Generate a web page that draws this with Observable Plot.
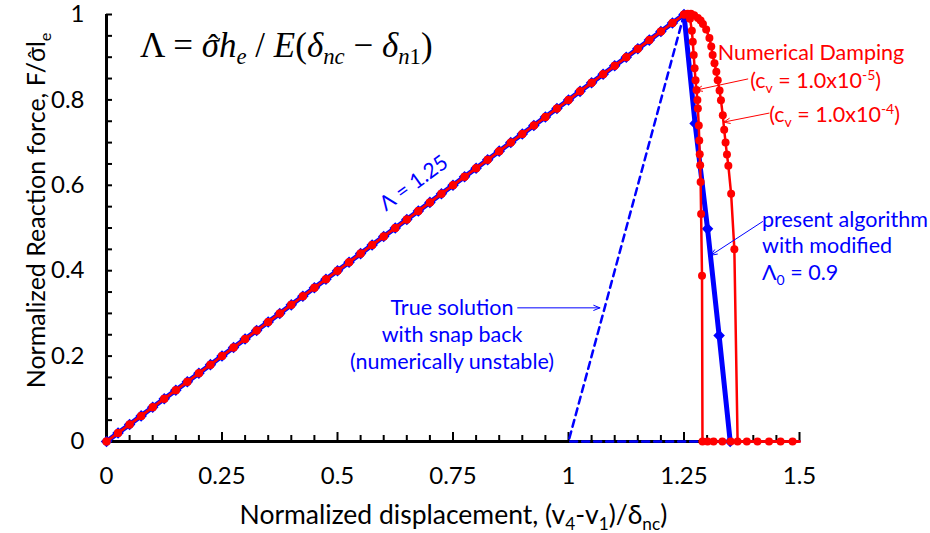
<!DOCTYPE html>
<html><head><meta charset="utf-8">
<script src="https://cdn.jsdelivr.net/npm/d3@7"></script>
<script src="https://cdn.jsdelivr.net/npm/@observablehq/plot@0.6"></script>
<style>
body{margin:0;background:#fff;}
#chart svg{display:block;}
</style></head><body><div id="chart"></div>
<script>
// ---------- data ----------
const elasticX = [0,0.025,0.05,0.075,0.1,0.125,0.15,0.175,0.2,0.225,0.25,0.275,0.3,0.325,0.35,0.375,0.4,0.425,0.45,0.475,0.5,0.525,0.55,0.575,0.6,0.625,0.65,0.675,0.7,0.725,0.75,0.775,0.8,0.825,0.85,0.875,0.9,0.925,0.95,0.975,1.0,1.025,1.05,1.075,1.1,1.125,1.15,1.175,1.2,1.225,1.25];
const elasticY = [0,0.02,0.04,0.06,0.08,0.10,0.12,0.14,0.16,0.18,0.20,0.22,0.24,0.26,0.28,0.30,0.32,0.34,0.36,0.38,0.40,0.42,0.44,0.46,0.48,0.50,0.52,0.54,0.56,0.58,0.60,0.62,0.64,0.66,0.68,0.70,0.72,0.74,0.76,0.78,0.80,0.82,0.84,0.86,0.88,0.90,0.92,0.94,0.96,0.98,1.00];

// present algorithm (modified Λ0 = 0.9), after the peak
const presentX = [1.274,1.301,1.326,1.350];
const presentY = [0.745,0.498,0.248,0];

// numerical damping cv = 1.0e-5, after the peak
const damp5X = [1.257,1.263,1.267,1.269,1.271,1.273,1.275,1.277,1.279,1.280,1.282,1.283,1.284,1.285,1.286,1.287,1.289,1.290,1.301,1.314,1.333,1.351,1.500];
const damp5Y = [1.000,0.990,0.962,0.936,0.905,0.874,0.846,0.823,0.800,0.780,0.740,0.705,0.673,0.647,0.608,0.533,0.388,0,0,0,0,0,0];

// numerical damping cv = 1.0e-4, after the peak
const damp4X = [1.258,1.265,1.272,1.280,1.286,1.291,1.298,1.305,1.309,1.312,1.316,1.320,1.323,1.327,1.330,1.334,1.337,1.340,1.343,1.346,1.352,1.359,1.366,1.386,1.409,1.434,1.459,1.485,1.500];
const damp4Y = [1.002,1.002,0.998,0.992,0.986,0.978,0.965,0.945,0.925,0.905,0.886,0.866,0.846,0.822,0.799,0.764,0.730,0.700,0.672,0.646,0.580,0.450,0,0,0,0,0,0,0];

// true solution with snap back
const trueX = [1.25,1.0,1.5];
const trueY = [1.0,0,0];

// axes ticks
const xLabelTicks = [0,0.25,0.5,0.75,1,1.25,1.5];
const xMinorTicks = [0.05,0.1,0.15,0.2,0.3,0.35,0.4,0.45,0.55,0.6,0.65,0.7,0.8,0.85,0.9,0.95,1.05,1.1,1.15,1.2,1.3,1.35,1.4,1.45];
const yLabelTicks = [0,0.2,0.4,0.6,0.8,1];
const yMinorTicks = [0.05,0.1,0.15,0.2,0.25,0.3,0.35,0.4,0.45,0.5,0.55,0.6,0.65,0.7,0.75,0.8,0.85,0.9,0.95,1.0];

// annotation arrows (data coordinates)
const arrowX1 = [1.388,1.434,1.420,0.890];
const arrowY1 = [0.849,0.769,0.515,0.313];
const arrowX2 = [1.276,1.336,1.308,1.068];
const arrowY2 = [0.823,0.748,0.436,0.313];
const arrowColor = ["red","red","blue","blue"];

// ---------- build ----------
const BLUE = "#0000ff", RED = "#ff0000";
const tbl = (xs, ys) => xs.map((x, i) => ({x, y: ys[i]}));
const elastic = tbl(elasticX, elasticY);
const present = elastic.concat(tbl(presentX, presentY));
const damp5 = elastic.concat(tbl(damp5X, damp5Y));
const damp4 = elastic.concat(tbl(damp4X, damp4Y));
const trueSol = tbl(trueX, trueY);
const arrows = arrowX1.map((x1, i) => ({x1, y1: arrowY1[i], x2: arrowX2[i], y2: arrowY2[i], c: arrowColor[i]}));
const noLast = a => a.slice(0, -1);

const W = 930, H = 533, mL = 106, mR = 131, mT = 14, mB = 92;
const FW = W - mL - mR, FH = H - mT - mB;
const SANS = "Lato, 'Open Sans', sans-serif";

const plot = Plot.plot({
  width: W, height: H,
  marginLeft: mL, marginRight: mR, marginTop: mT, marginBottom: mB,
  x: {domain: [0, 1.5]},
  y: {domain: [0, 1]},
  style: {fontFamily: SANS, background: "white", color: "black"},
  marks: [
    Plot.tickX(xMinorTicks, {x: d => d, stroke: "black", strokeWidth: 2, insetTop: FH - 6}),
    Plot.tickX(xLabelTicks, {x: d => d, stroke: "black", strokeWidth: 2, insetTop: FH - 9}),
    Plot.tickY(yMinorTicks, {y: d => d, stroke: "black", strokeWidth: 2, insetRight: FW - 6}),
    Plot.ruleY([0], {stroke: "black", strokeWidth: 3}),
    Plot.ruleX([0], {stroke: "black", strokeWidth: 3}),
    Plot.axisX(xLabelTicks, {tickSize: 0, tickPadding: 25, fontSize: 24, tickFormat: d => String(d), label: null}),
    Plot.axisY(yLabelTicks, {tickSize: 0, tickPadding: 22, fontSize: 24, tickFormat: d => String(d), label: null}),
    Plot.line(trueSol, {x: "x", y: "y", stroke: BLUE, strokeWidth: 2.5, strokeDasharray: "7,5"}),
    Plot.line(present, {x: "x", y: "y", stroke: BLUE, strokeWidth: 5}),
    Plot.dot(present, {x: "x", y: "y", symbol: "diamond2", r: 5.2, fill: BLUE}),
    Plot.line(damp4, {x: "x", y: "y", stroke: RED, strokeWidth: 2.5}),
    Plot.dot(noLast(damp4), {x: "x", y: "y", r: 4, fill: RED}),
    Plot.line(damp5, {x: "x", y: "y", stroke: RED, strokeWidth: 2.5}),
    Plot.dot(noLast(damp5), {x: "x", y: "y", r: 4, fill: RED}),
    Plot.arrow(arrows, {x1: "x1", y1: "y1", x2: "x2", y2: "y2", stroke: "c", strokeWidth: 1, headLength: 10, headAngle: 45}),
    Plot.text(["Λ = 1.25"], {x: 0.665, y: 0.605, rotate: -36, fill: BLUE, fontSize: 21, fontFamily: SANS})
  ]
});
document.getElementById("chart").appendChild(plot);

// ---------- rich text (sub/superscripts, hats) ----------
const xs = plot.scale("x"), ys = plot.scale("y");
const svg = d3.select(plot);
function rich(o) {
  const px = xs.apply(o.x), py = ys.apply(o.y);
  const fam = o.family || SANS, fill = o.fill || "black";
  const tf = o.rotate ? `rotate(${o.rotate},${px},${py})` : null;
  const t = svg.append("text").attr("x", px).attr("y", py)
    .attr("font-size", o.size).attr("font-family", fam)
    .attr("fill", fill).attr("text-anchor", o.anchor || "start");
  if (tf) t.attr("transform", tf);
  let cur = 0, idx = 0;
  const hats = [];
  for (const s of o.segs) {
    const target = s.sub ? o.size * 0.22 : s.sup ? -o.size * 0.38 : 0;
    const ts = t.append("tspan").text(s.t).attr("dy", target - cur);
    if (s.sub || s.sup) ts.attr("font-size", o.size * 0.65);
    if (s.i) ts.attr("font-style", "italic");
    if (s.hat) hats.push({idx, italic: !!s.i});
    idx += s.t.length;
    cur = target;
  }
  for (const h of hats) {
    const r = t.node().getExtentOfChar(h.idx);
    const cx = r.x + r.width / 2 + (h.italic ? o.size * 0.08 : 0);
    const ht = svg.append("text").attr("x", cx).attr("y", py - o.size * 0.02)
      .attr("font-size", o.size * 0.9).attr("font-family", fam).attr("fill", fill)
      .attr("text-anchor", "middle").text("ˆ");
    if (tf) ht.attr("transform", tf);
  }
}
const SERIF = "'Liberation Serif', 'Times New Roman', serif";
const annotations = [
  {x: 0.0736, y: 0.90, size: 35, family: SERIF, segs: [
    {t: "Λ = "}, {t: "σ", i: 1, hat: 1}, {t: "h", i: 1}, {t: "e", i: 1, sub: 1}, {t: " / "}, {t: "E", i: 1}, {t: "("},
    {t: "δ", i: 1}, {t: "nc", i: 1, sub: 1}, {t: " − "}, {t: "δ", i: 1}, {t: "n", i: 1, sub: 1}, {t: "1", sub: 1}, {t: ")"}]},
  {x: 1.526, y: 0.892, size: 21.5, fill: RED, anchor: "middle", segs: [{t: "Numerical Damping"}]},
  {x: 1.536, y: 0.8267, size: 21.5, fill: RED, anchor: "middle", segs: [{t: "(c"}, {t: "v", sub: 1}, {t: " = 1.0x10"}, {t: "-5", sup: 1}, {t: ")"}]},
  {x: 1.577, y: 0.747, size: 21.5, fill: RED, anchor: "middle", segs: [{t: "(c"}, {t: "v", sub: 1}, {t: " = 1.0x10"}, {t: "-4", sup: 1}, {t: ")"}]},
  {x: 1.42, y: 0.501, size: 21.5, fill: BLUE, segs: [{t: "present algorithm"}]},
  {x: 1.42, y: 0.440, size: 21.5, fill: BLUE, segs: [{t: "with modified"}]},
  {x: 1.42, y: 0.377, size: 21.5, fill: BLUE, segs: [{t: "Λ"}, {t: "0", sub: 1}, {t: " = 0.9"}]},
  {x: 0.749, y: 0.295, size: 21.5, fill: BLUE, anchor: "middle", segs: [{t: "True solution"}]},
  {x: 0.749, y: 0.2319, size: 21.5, fill: BLUE, anchor: "middle", segs: [{t: "with snap back"}]},
  {x: 0.749, y: 0.1686, size: 21.5, fill: BLUE, anchor: "middle", segs: [{t: "(numerically unstable)"}]},
  {x: 0.752, y: -0.195, size: 26.5, anchor: "middle", segs: [{t: "Normalized displacement, (v"}, {t: "4", sub: 1}, {t: "-v"}, {t: "1", sub: 1}, {t: ")/δ"}, {t: "nc", sub: 1}, {t: ")"}]},
  {x: -0.132, y: 0.540, size: 25, anchor: "middle", rotate: -90, segs: [{t: "Normalized Reaction force, F/σl", hat: 0}, {t: "e", sub: 1}]}
];
// hat over σ in y label: mark the σ character
annotations[annotations.length - 1].segs = [{t: "Normalized Reaction force, F/"}, {t: "σ", hat: 1}, {t: "l"}, {t: "e", sub: 1}];
annotations.forEach(rich);
</script></body></html>
